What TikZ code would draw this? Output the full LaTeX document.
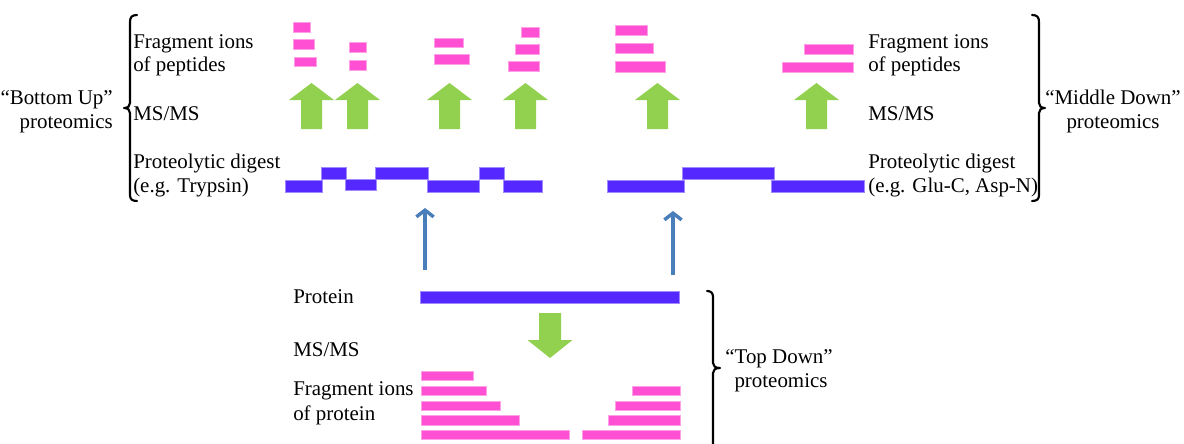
\documentclass[tikz,border=0pt]{standalone}
\usepackage{fontspec}
\setmainfont{Liberation Serif}
\usetikzlibrary{arrows.meta}
\definecolor{pinkc}{RGB}{255,80,212}
\definecolor{bluec}{RGB}{85,40,255}
\definecolor{greenc}{RGB}{146,208,80}
\definecolor{arrowc}{RGB}{74,126,187}
\begin{document}
\begin{tikzpicture}[x=0.75pt,y=-0.75pt,
  lbl/.style={inner sep=0pt, font=\fontsize{15.7}{18}\selectfont},
  pbar/.style={fill=pinkc, draw=pinkc!55!white, line width=0.4pt},
  bbar/.style={fill=bluec, draw=bluec!55!white, line width=0.4pt},
  brk/.style={line width=1.6pt, line cap=round, line join=round},
  thinarrow/.style={draw=arrowc, line width=2.8pt, -{Straight Barb[length=5pt,width=13pt,line width=2.6pt]}},
  uparrow/.pic={\fill[greenc] (-10.5,0) -- (-10.5,-29) -- (-22.5,-29) -- (0,-46) -- (22.5,-29) -- (10.5,-29) -- (10.5,0) -- cycle;},
  downarrow/.pic={\fill[greenc] (-11,0) -- (-11,27) -- (-22.5,27) -- (0,45) -- (22.5,27) -- (11,27) -- (11,0) -- cycle;}
]
\useasboundingbox (0,0) rectangle (1184,443);

% ---------- top pink fragment bars ----------
\path[pbar] (293,22) rectangle (310,32);
\path[pbar] (293,39) rectangle (314,49);
\path[pbar] (294,57) rectangle (316,66);
\path[pbar] (349,42) rectangle (366,52);
\path[pbar] (349,60) rectangle (366,70);
\path[pbar] (434,38) rectangle (463,47);
\path[pbar] (434,54) rectangle (469,64);
\path[pbar] (521,27) rectangle (539,37);
\path[pbar] (515,44) rectangle (539,54);
\path[pbar] (508,61) rectangle (539,71);
\path[pbar] (615,25) rectangle (647,35);
\path[pbar] (615,43) rectangle (653,53);
\path[pbar] (615,61) rectangle (665,72);
\path[pbar] (804,44) rectangle (853,54);
\path[pbar] (782,62) rectangle (853,72);

% ---------- green up arrows ----------
\pic at (311.5,129) {uparrow};
\pic at (357.5,129) {uparrow};
\pic at (449.5,129) {uparrow};
\pic at (525.5,129) {uparrow};
\pic at (657.5,129) {uparrow};
\pic at (816.5,129) {uparrow};

% ---------- blue digest bars ----------
\path[bbar] (285,180) rectangle (322,192);
\path[bbar] (321,167) rectangle (346,179);
\path[bbar] (345,179) rectangle (376,190);
\path[bbar] (375,167) rectangle (428,179);
\path[bbar] (427,180) rectangle (479,192);
\path[bbar] (479,167) rectangle (504,179);
\path[bbar] (503,180) rectangle (542,192);
\path[bbar] (607,180) rectangle (684,192);
\path[bbar] (682,167) rectangle (774,179);
\path[bbar] (771,180) rectangle (864,192);

% ---------- blue thin arrows ----------
\coordinate (a1s) at (425,270);
\coordinate (a1e) at (425,208);
\coordinate (a2s) at (673,275);
\coordinate (a2e) at (673,211);
\draw[thinarrow] (a1s) -- (a1e);
\draw[thinarrow] (a2s) -- (a2e);

% ---------- protein ----------
\path[bbar] (420,291) rectangle (679,303);
\pic at (550,313) {downarrow};

% ---------- bottom pink bars ----------
\path[pbar] (421,371) rectangle (473,380);
\path[pbar] (421,386) rectangle (486,395);
\path[pbar] (421,401) rectangle (500,410);
\path[pbar] (421,415) rectangle (519,425);
\path[pbar] (421,430) rectangle (569,439);
\path[pbar] (632,386) rectangle (680,395);
\path[pbar] (615,401) rectangle (680,410);
\path[pbar] (608,415) rectangle (680,425);
\path[pbar] (582,430) rectangle (680,439);

% ---------- brackets ----------
\draw[brk] (137,15) .. controls (132,15) and (130,17) .. (130,22) -- (130,103)
  .. controls (130,106) and (128,108) .. (124,108)
  .. controls (128,108) and (130,110) .. (130,113) -- (130,195)
  .. controls (130,199) and (132,201) .. (137,201);
\draw[brk] (1032,15) .. controls (1037,15) and (1039,17) .. (1039,22) -- (1039,103)
  .. controls (1039,106) and (1041,108) .. (1045,108)
  .. controls (1041,108) and (1039,110) .. (1039,113) -- (1039,195)
  .. controls (1039,199) and (1037,201) .. (1032,201);
\draw[brk] (707,291) .. controls (711,291) and (713,293) .. (713,297) -- (713,363)
  .. controls (713,366) and (715,368) .. (720,368)
  .. controls (715,368) and (713,370) .. (713,373) -- (713,450);

% ---------- left labels ----------
\node[lbl, anchor=base west] (lfa) at (133,48) {Fragment ions};
\node[lbl, anchor=base west] (lfb) at (133,71) {of peptides};
\node[lbl, anchor=base west] (lms) at (133,120) {MS/MS};
\node[lbl, anchor=base west] (lpa) at (133,168) {Proteolytic digest};
\node[lbl, anchor=base west] (lpb) at (133,192) {(e.g. Trypsin)};
\node[lbl, anchor=base east] (bua) at (113,104) {“Bottom Up”};
\node[lbl, anchor=base east] (bub) at (113,128) {proteomics};

% ---------- right labels ----------
\node[lbl, anchor=base west] (rfa) at (868,48) {Fragment ions};
\node[lbl, anchor=base west] (rfb) at (868,71) {of peptides};
\node[lbl, anchor=base west] (rms) at (868,120) {MS/MS};
\node[lbl, anchor=base west] (rpa) at (868,168) {Proteolytic digest};
\node[lbl, anchor=base west] (rpb) at (868,192) {(e.g. Glu-C, Asp-N)};
\node[lbl, anchor=base] (mda) at (1113,104) {“Middle Down”};
\node[lbl, anchor=base] (mdb) at (1113,128) {proteomics};

% ---------- bottom labels ----------
\node[lbl, anchor=base west] (bp) at (293,303) {Protein};
\node[lbl, anchor=base west] (bms) at (293,356) {MS/MS};
\node[lbl, anchor=base west] (bfa) at (293,395) {Fragment ions};
\node[lbl, anchor=base west] (bfb) at (293,420) {of protein};
\node[lbl, anchor=base] (tda) at (779,363) {“Top Down”};
\node[lbl, anchor=base] (tdb) at (781,387) {proteomics};
\end{tikzpicture}
\end{document}
